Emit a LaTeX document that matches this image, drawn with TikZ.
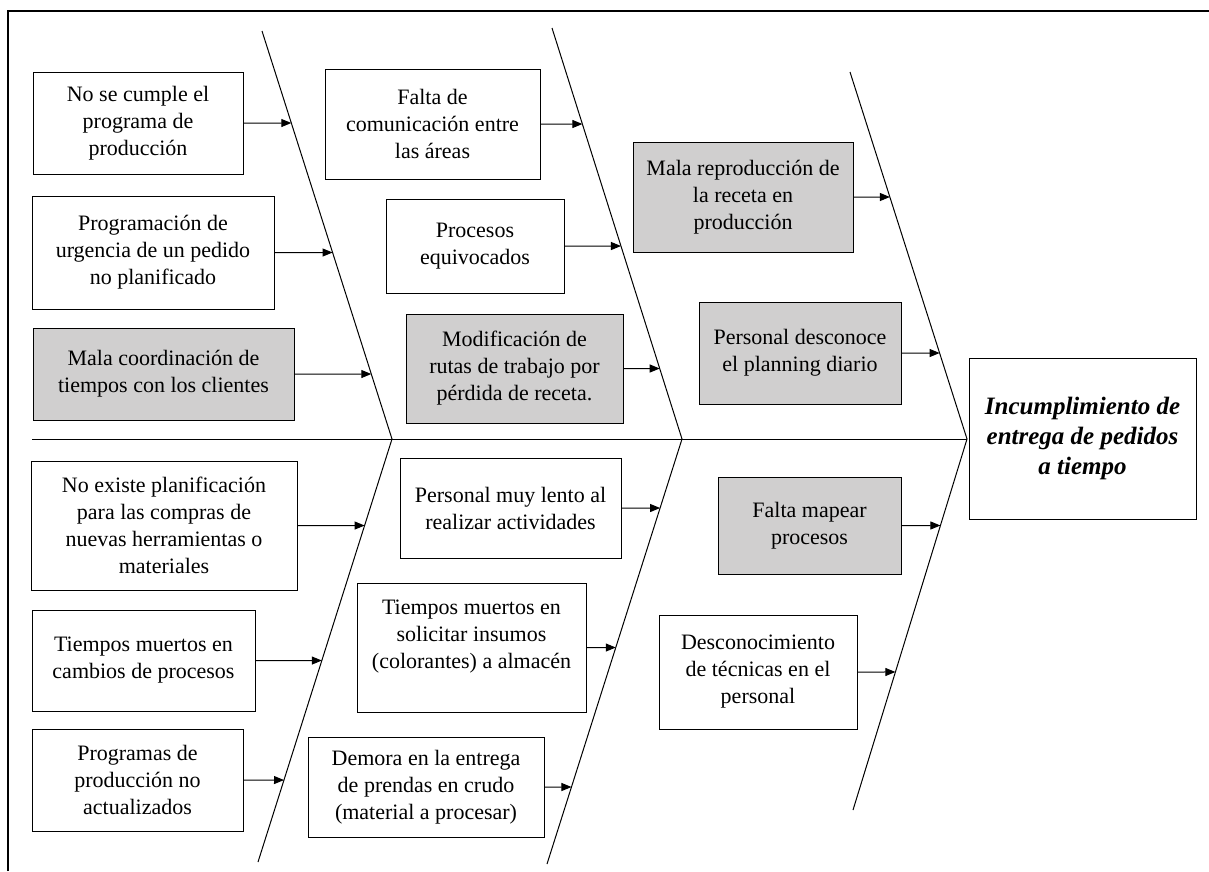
\documentclass[tikz,border=0pt]{standalone}
\usepackage{fontspec}
\setmainfont{Liberation Serif}
\usetikzlibrary{arrows.meta}
\definecolor{causefill}{RGB}{208,207,207}
\begin{document}
\begin{tikzpicture}[x=1pt,y=-1pt,
  cause/.style={draw=black, line width=1pt, align=center, inner sep=0pt,
                font=\fontsize{22}{27}\selectfont},
  keycause/.style={cause, fill=causefill},
  dims/.style 2 args={minimum width=#1pt, minimum height=#2pt},
  bone/.style={line width=1pt},
  arr/.style={line width=1pt, -{Triangle[length=10pt,width=8pt]}}]
\useasboundingbox (0,0) rectangle (1209,871);

% outer frame
\coordinate (fBL) at (8,871);
\coordinate (fTL) at (8,11);
\coordinate (fTR) at (1209,11);
\draw[line width=1.5pt] (fBL) -- (fTL) -- (fTR);

% spine and bones
\coordinate (spL) at (32,439);
\coordinate (T1a) at (262,31);  \coordinate (T1b) at (392,439); \coordinate (B1b) at (258,862);
\coordinate (T2a) at (552,28);  \coordinate (T2b) at (682,439); \coordinate (B2b) at (547,864);
\coordinate (T3a) at (850,72);  \coordinate (T3b) at (967,439); \coordinate (B3b) at (853,810);

\draw[bone] (spL) -- (T3b);
\draw[bone] (T1a) -- (T1b) -- (B1b);
\draw[bone] (T2a) -- (T2b) -- (B2b);
\draw[bone] (T3a) -- (T3b) -- (B3b);

% effect
\node[cause, dims={227}{161}, font=\fontsize{25}{30}\selectfont\bfseries\itshape]
  (effect) at (1082.5,438.5) {Incumplimiento de\\entrega de pedidos\\a tiempo};

% upper causes
\node[cause, dims={210}{102}] (nA1) at (138,123) {No se cumple el\\programa de\\producción};
\node[cause, dims={242}{113}] (nA2) at (153,252.5) {Programación de\\urgencia de un pedido\\no planificado};
\node[keycause, dims={261}{92}] (nA3) at (163.5,374) {Mala coordinación de\\tiempos con los clientes};

\node[cause, dims={215}{110}] (nB1) at (432.5,124) {Falta de\\comunicación entre\\las áreas};
\node[cause, dims={178}{94}] (nB2) at (475,246) {Procesos\\equivocados};
\node[keycause, dims={217}{109}] (nB3) at (514.5,368.5) {Modificación de\\rutas de trabajo por\\pérdida de receta.};

\node[keycause, dims={220}{110}] (nC1) at (743,197) {Mala reproducción de\\la receta en\\producción};
\node[keycause, dims={202}{102}] (nC2) at (800,353) {Personal desconoce\\el planning diario};

% lower causes
\node[cause, dims={266}{129}] (nD1) at (164,525.5) {No existe planificación\\para las compras de\\nuevas herramientas o\\materiales};
\node[cause, dims={223}{101}] (nD2) at (143.5,660.5) {Tiempos muertos en\\cambios de procesos};
\node[cause, dims={211}{102}] (nD3) at (137.5,780) {Programas de\\producción no\\actualizados};

\node[cause, dims={221}{100}] (nE1) at (510.5,508) {Personal muy lento al\\realizar actividades};
\node[cause, dims={229}{129}] (nE2) at (471.5,647.5) {Tiempos muertos en\\solicitar insumos\\(colorantes) a almacén\\\mbox{}};
\node[cause, dims={236}{100}] (nE3) at (426,787) {Demora en la entrega\\de prendas en crudo\\(material a procesar)};

\node[keycause, dims={183}{97}] (nF1) at (809.5,525.5) {Falta mapear\\procesos};
\node[cause, dims={198}{114}] (nF2) at (758,672) {Desconocimiento\\de técnicas en el\\personal};

% arrows from causes to bones
\draw[arr] (nA1.east) -- (intersection of nA1.west--nA1.east and T1a--T1b);
\draw[arr] (nA2.east) -- (intersection of nA2.west--nA2.east and T1a--T1b);
\draw[arr] (nA3.east) -- (intersection of nA3.west--nA3.east and T1a--T1b);
\draw[arr] (nB1.east) -- (intersection of nB1.west--nB1.east and T2a--T2b);
\draw[arr] (nB2.east) -- (intersection of nB2.west--nB2.east and T2a--T2b);
\draw[arr] (nB3.east) -- (intersection of nB3.west--nB3.east and T2a--T2b);
\draw[arr] (nC1.east) -- (intersection of nC1.west--nC1.east and T3a--T3b);
\draw[arr] (nC2.east) -- (intersection of nC2.west--nC2.east and T3a--T3b);
\draw[arr] (nD1.east) -- (intersection of nD1.west--nD1.east and T1b--B1b);
\draw[arr] (nD2.east) -- (intersection of nD2.west--nD2.east and T1b--B1b);
\draw[arr] (nD3.east) -- (intersection of nD3.west--nD3.east and T1b--B1b);
\draw[arr] (nE1.east) -- (intersection of nE1.west--nE1.east and T2b--B2b);
\draw[arr] (nE2.east) -- (intersection of nE2.west--nE2.east and T2b--B2b);
\draw[arr] (nE3.east) -- (intersection of nE3.west--nE3.east and T2b--B2b);
\draw[arr] (nF1.east) -- (intersection of nF1.west--nF1.east and T3b--B3b);
\draw[arr] (nF2.east) -- (intersection of nF2.west--nF2.east and T3b--B3b);
\end{tikzpicture}
\end{document}
